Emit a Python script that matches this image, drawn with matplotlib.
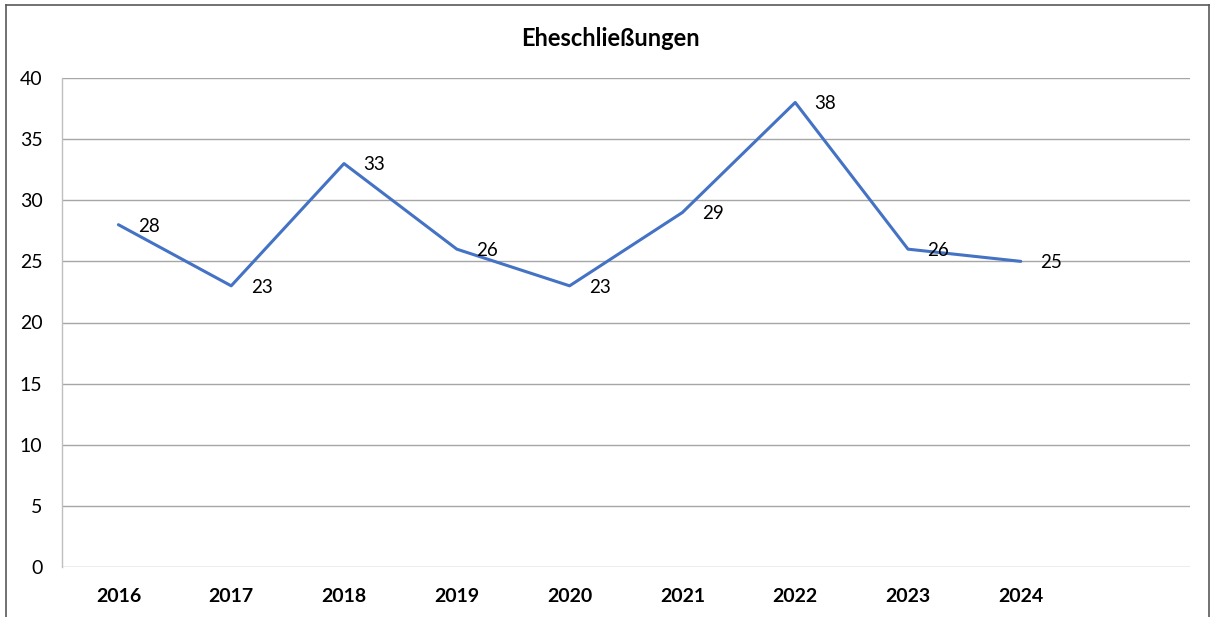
import matplotlib
matplotlib.use("Agg")
import matplotlib.pyplot as plt
from matplotlib.lines import Line2D

years = ["2016", "2017", "2018", "2019", "2020", "2021", "2022", "2023", "2024"]
values = [28, 23, 33, 26, 23, 29, 38, 26, 25]
title = "Eheschließungen"
yticks = [0, 5, 10, 15, 20, 25, 30, 35, 40]

plt.rcParams['font.family'] = ['Lato', 'DejaVu Sans']

W, H = 1210, 617
fig = plt.figure(figsize=(W / 100, H / 100), dpi=100)
ax = fig.add_axes([62 / W, 1 - 567 / H, (1190 - 62) / W, (567 - 78) / H])

x = list(range(len(years)))
ax.plot(x, values, color="#4472C4", linewidth=2.2, solid_capstyle="round", zorder=3)
for xi, v in zip(x, values):
    ax.annotate(str(v), (xi, v), xytext=(14, -1), textcoords="offset points",
                ha="left", va="center", fontsize=13.5, color="black", zorder=4)

ax.set_xlim(-0.5, 9.5)
ax.set_ylim(0, 40)
ax.set_yticks(yticks)
ax.set_yticklabels([str(t) for t in yticks], fontsize=14)
ax.set_xticks(x)
ax.set_xticklabels(years, fontsize=14, fontweight="bold")
ax.tick_params(axis="both", length=0)
ax.tick_params(axis="x", pad=15)
ax.tick_params(axis="y", pad=14)
ax.grid(axis="y", color="#A6A6A6", linewidth=1)
ax.set_axisbelow(True)
for s in ["top", "right", "bottom"]:
    ax.spines[s].set_visible(False)
ax.spines["left"].set_color("#BFBFBF")
ax.spines["left"].set_linewidth(1)

fig.text(610 / W, 1 - 38 / H, title, ha="center", va="center", fontsize=17, fontweight="bold")

# outer chart border
fx = lambda px: px / W
fy = lambda py: 1 - py / H
fig.add_artist(Line2D([fx(5.5), fx(5.5)], [fy(4.5), 0], color="#595959", lw=1.2))
fig.add_artist(Line2D([fx(5.5), fx(1208.5)], [fy(4.5), fy(4.5)], color="#595959", lw=1.2))
fig.add_artist(Line2D([fx(1208.5), fx(1208.5)], [fy(4.5), 0], color="#595959", lw=1.2))

fig.savefig("out.png", dpi=100)
